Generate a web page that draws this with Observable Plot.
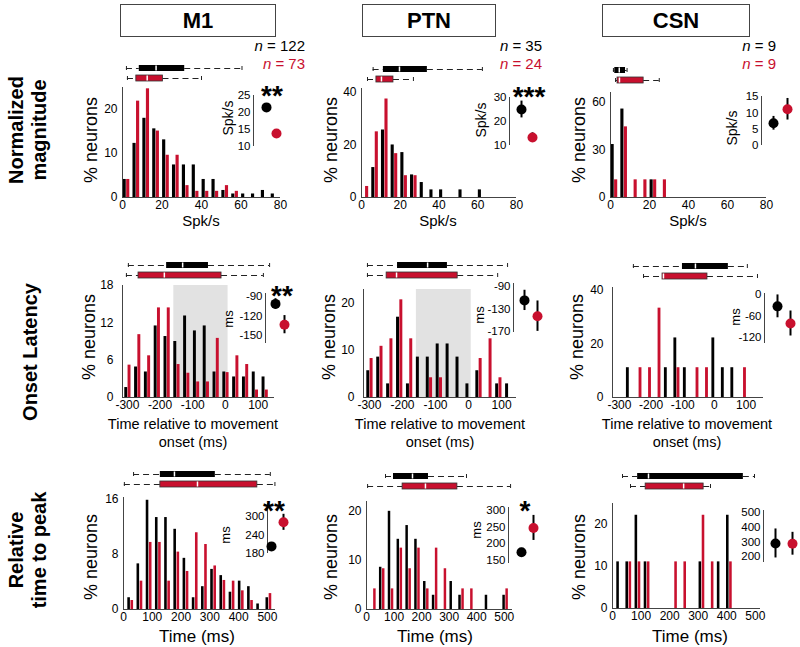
<!DOCTYPE html>
<html><head><meta charset="utf-8">
<script src="https://cdn.jsdelivr.net/npm/d3@7"></script>
<script src="https://cdn.jsdelivr.net/npm/@observablehq/plot@0.6"></script>
<style>
body{margin:0;background:#fff;}
#fig{position:relative;width:800px;height:647px;overflow:hidden;background:#fff;font-family:"Liberation Sans",Arial,sans-serif;color:#000;}
.t{position:absolute;white-space:nowrap;line-height:1;}
.box{position:absolute;border:1.5px solid #444;box-sizing:border-box;display:flex;align-items:center;justify-content:center;font-weight:bold;font-size:22px;}
</style></head><body><div id="fig"></div>
<script>
const RED = "#c8102e";
const AXIS = "#444";

// ---------- histogram data (% neurons) ----------
const magBins = [0,5,10,15,20,25,30,35,40,45,50,55,60,65,70,75];
const m1MagBlack  = [4.1,12.3,18.0,15.6,13.1,7.4,7.4,7.4,4.1,4.1,1.6,0.8,0.8,0.8,1.6,0.8];
const m1MagRed    = [4.1,21.9,24.7,15.1,9.6,9.6,2.7,1.4,1.4,1.4,2.7,1.4,0,0,0,0];
const ptnMagBlack = [0,11.4,25.7,20.0,17.1,8.6,5.7,2.9,2.9,0,2.9,0,2.9,0,0,0];
const ptnMagRed   = [4.2,25.0,37.5,16.7,8.3,8.3,0,0,0,0,0,0,0,0,0,0];
const csnMagBlack = [33.3,55.6,0,0,11.1,0,0,0,0,0,0,0,0,0,0,0];
const csnMagRed   = [11.1,44.4,11.1,11.1,11.1,11.1,0,0,0,0,0,0,0,0,0,0];

const onsetBins = [-300,-270,-240,-210,-180,-150,-120,-90,-60,-30,0,30,60,90,120];
const m1OnsetBlack  = [1.6,4.9,4.1,11.5,9.8,9.0,13.1,10.7,11.5,4.1,4.1,3.3,3.3,4.1,3.3];
const m1OnsetRed    = [5.2,10.1,6.7,14.4,14.4,5.3,3.9,2.5,2.5,9.5,4.0,6.7,5.3,1.2,1.2];
const ptnOnsetBlack = [5.7,8.6,2.9,17.1,2.9,8.6,8.6,11.4,11.4,8.6,2.9,5.7,0,2.9,2.9];
const ptnOnsetRed   = [8.3,10.9,12.5,20.8,12.5,0,4.2,4.2,0,0,0,8.3,12.5,4.2,0];
const csnOnsetBlack = [0,11.1,0,0,0,11.1,22.2,11.1,0,0,22.2,11.1,11.1,0,0];
const csnOnsetRed   = [0,0,11.1,11.1,33.3,0,11.1,0,11.1,11.1,0,0,0,11.1,0];
const onsetShade = [-158, 8];

const peakBins = [25,57,89,121,153,185,217,249,281,313,345,377,409,441,473,505];
const m1PeakBlack  = [1.7,6.6,15.8,13.3,13.3,11.6,7.4,1.7,3.3,5.8,4.9,2.5,4.1,3.3,0.8,1.7];
const m1PeakRed    = [1.3,4.1,9.7,9.7,4.1,8.3,5.5,11.1,9.4,6.3,4.2,4.1,2.7,1.3,0,2.3];
const ptnPeakBlack = [0,8.6,20.0,14.3,17.1,14.3,5.7,2.9,0,5.7,2.9,0,0,2.9,0,2.9];
const ptnPeakRed   = [4.2,8.3,4.2,12.5,8.3,12.5,4.2,12.5,8.3,0,4.2,4.2,0,0,0,4.2];
const csnPeakBlack = [11.1,11.1,22.2,11.1,0,0,0,0,0,11.1,0,11.1,22.2,0,0,0];
const csnPeakRed   = [0,11.1,11.1,11.1,0,0,11.1,11.1,0,22.2,11.1,0,11.1,0,0,0];

// ---------- box plot stats [lower whisker, q1, median, q3, upper whisker] ----------
const m1MagBoxBlack  = [2,8.5,17,31.5,60.5];     const m1MagBoxRed  = [2.5,7,12.5,20.5,40];
const ptnMagBoxBlack = [6,11.3,19.6,34,62.4];    const ptnMagBoxRed = [3.1,7.7,10.3,16.5,26.8];
const csnMagBoxBlack = [1.5,2.2,4.5,7.7,8.5];    const csnMagBoxRed = [2.6,3.6,4.6,17,25];
const m1OnsetBoxBlack  = [-297,-180,-131,-52,135]; const m1OnsetBoxRed  = [-303,-266,-187,-12,116];
const ptnOnsetBoxBlack = [-306,-215,-124,-64,118]; const ptnOnsetBoxRed = [-306,-248,-218,-33,88];
const csnOnsetBoxBlack = [-256,-101,-60,44,104];   const csnOnsetBoxRed = [-224,-164,-161,-22,136];
const m1PeakBoxBlack  = [35,128,177,319,510];   const m1PeakBoxRed  = [3,128,257,465,526];
const ptnPeakBoxBlack = [69,98,167,225,363];    const ptnPeakBoxRed = [4,131,214,330,523];
const csnPeakBoxBlack = [35,88,126,458,497];    const csnPeakBoxRed = [63,116,249,319,343];

// ---------- inset mean +/- error ----------
const m1MagMean = [21.5,13.8];   const m1MagErr = [1.0,1.2];
const ptnMagMean = [25,13.3];    const ptnMagErr = [3.5,2];
const csnMagMean = [6.8,11.1];   const csnMagErr = [2.1,3.3];
const m1OnsetMean = [-101,-133]; const m1OnsetErr = [8,14];
const ptnOnsetMean = [-115,-143];const ptnOnsetErr = [18,27];
const csnOnsetMean = [-33,-81];  const csnOnsetErr = [32,35];
const m1PeakMean = [203,281];    const m1PeakErr = [6,26];
const ptnPeakMean = [174,248];   const ptnPeakErr = [12,38];
const csnPeakMean = [290,288];   const csnPeakErr = [99,78];

// ---------- ticks ----------
const magTicksX = [0,20,40,60,80];
const onsetTicksX = [-300,-200,-100,0,100];
const peakTicksX = [0,100,200,300,400,500];

const fig = document.getElementById("fig");
const fmt = d => String(d);
const baseStyle = {background:"transparent", fontFamily:"Liberation Sans, Arial, sans-serif", fontSize:"12px", color:"#000", overflow:"visible"};
const insetStyle = {...baseStyle, fontSize:"11.5px"};

function place(svg, left, top) {
  svg.style.position = "absolute";
  svg.style.left = left + "px";
  svg.style.top = top + "px";
  fig.appendChild(svg);
}

function histogram({x0, x1, yTop, yBase, xDomain, yDomain, xTicks, yTicks, bins, black, red, bOff, rOff, band, yPad = 5}) {
  const ml = 36, mr = 2, mt = 2, mb = 22;
  const w = x1 - x0, h = yBase - yTop;
  const rows = (vals, off) => bins.map((b, i) => ({x1: b + off[0], x2: b + off[1], v: vals[i]})).filter(d => d.v > 0);
  const marks = [];
  if (band) marks.push(Plot.rect([band], {x1: d => d[0], x2: d => d[1], y1: () => yDomain[0], y2: () => yDomain[1], fill: "#e2e2e2"}));
  marks.push(
    Plot.rect(rows(black, bOff), {x1: "x1", x2: "x2", y1: () => 0, y2: "v", fill: "#000"}),
    Plot.rect(rows(red, rOff), {x1: "x1", x2: "x2", y1: () => 0, y2: "v", fill: RED}),
    Plot.ruleY([yDomain[0]], {stroke: AXIS}),
    Plot.ruleX([xDomain[0]], {stroke: AXIS}),
    Plot.axisX(xTicks, {tickSize: 0, tickPadding: 3, tickFormat: fmt, label: null}),
    Plot.axisY(yTicks, {tickSize: 0, tickPadding: yPad, tickFormat: fmt, label: null})
  );
  const svg = Plot.plot({width: ml + w + mr, height: mt + h + mb, marginLeft: ml, marginRight: mr, marginTop: mt, marginBottom: mb,
    x: {domain: xDomain}, y: {domain: yDomain}, style: baseStyle, marks});
  place(svg, x0 - ml, yTop - mt);
}

function boxplot({x0, x1, xDomain, yc, blackStats, redStats}) {
  const ml = 36, mr = 2, w = x1 - x0;
  const mk = (g, s) => ({g, lo: s[0], q1: s[1], med: s[2], q3: s[3], hi: s[4]});
  const rows = [mk("black", blackStats), mk("red", redStats)];
  const svg = Plot.plot({width: ml + w + mr, height: 34, marginLeft: ml, marginRight: mr, marginTop: 0, marginBottom: 0,
    x: {domain: xDomain, axis: null},
    y: {type: "band", domain: ["black", "red"], range: [7, 27], padding: 0, axis: null},
    style: baseStyle,
    marks: [
      Plot.ruleY(rows, {y: "g", x1: "lo", x2: "q1", stroke: "#222", strokeDasharray: "6,4"}),
      Plot.ruleY(rows, {y: "g", x1: "q3", x2: "hi", stroke: "#222", strokeDasharray: "6,4"}),
      Plot.tickX(rows, {x: "lo", y: "g", stroke: "#222", insetTop: 3, insetBottom: 3}),
      Plot.tickX(rows, {x: "hi", y: "g", stroke: "#222", insetTop: 3, insetBottom: 3}),
      Plot.barX(rows.slice(0, 1), {x1: "q1", x2: "q3", y: "g", fill: "#000", insetTop: 2, insetBottom: 2}),
      Plot.barX(rows.slice(1), {x1: "q1", x2: "q3", y: "g", fill: RED, stroke: "#333", strokeWidth: 0.8, insetTop: 2, insetBottom: 2}),
      Plot.tickX(rows, {x: "med", y: "g", stroke: "#fff", strokeWidth: 1.5, insetTop: 2.5, insetBottom: 2.5})
    ]});
  place(svg, x0 - ml, yc - 12);
}

function inset({ax, bx, rx, yTop, yBot, domain, ticks, mean, err}) {
  const left = ax - 40, top = yTop - 8;
  const pts = ["black", "red"].map((g, i) => ({g, v: mean[i], e: err[i]}));
  const svg = Plot.plot({width: rx - left + 10, height: yBot - top + 8, marginLeft: 40, marginRight: 0, marginTop: 8, marginBottom: 8,
    x: {type: "point", domain: ["black", "red"], range: [bx - left, rx - left], padding: 0, axis: null},
    y: {domain, range: [yBot - top, yTop - top]},
    style: insetStyle,
    marks: [
      Plot.ruleX(["black"], {x: d => d, y1: () => domain[0], y2: () => domain[1], dx: ax - bx, stroke: AXIS}),
      Plot.axisY(ticks, {anchor: "left", tickSize: 0, tickPadding: 3, tickFormat: fmt, label: null}),
      Plot.ruleX(pts, {x: "g", y1: d => d.v - d.e, y2: d => d.v + d.e, stroke: "#000", strokeWidth: 2}),
      Plot.dot(pts.slice(0, 1), {x: "g", y: "v", r: 5, fill: "#000"}),
      Plot.dot(pts.slice(1), {x: "g", y: "v", r: 5, fill: RED})
    ]});
  place(svg, left, top);
}

function text(html, x, y, {size = 14, weight = 400, color = "#000", rotate = 0, align = "center", lh = 1} = {}) {
  const d = document.createElement("div");
  d.className = "t";
  d.innerHTML = html;
  const tx = align === "right" ? "-100%" : align === "left" ? "0" : "-50%";
  d.style.left = x + "px"; d.style.top = y + "px";
  d.style.fontSize = size + "px"; d.style.fontWeight = weight; d.style.color = color;
  d.style.lineHeight = lh; d.style.textAlign = "center";
  d.style.transform = `translate(${tx},-50%) rotate(${rotate}deg)`;
  fig.appendChild(d);
}
function stars(s, x, y) {
  const d = document.createElement("div");
  d.className = "t";
  d.textContent = s;
  d.style.left = x + "px"; d.style.top = (y - 0.28 * 28) + "px";
  d.style.fontSize = "28px"; d.style.fontWeight = "bold";
  d.style.transform = "translateX(-50%)";
  fig.appendChild(d);
}
function titleBox(label, x0, x1) {
  const d = document.createElement("div");
  d.className = "box";
  d.textContent = label;
  d.style.left = x0 + "px"; d.style.top = "4px";
  d.style.width = (x1 - x0) + "px"; d.style.height = "33px";
  fig.appendChild(d);
}

const magOff = {bOff: [0.3, 1.9], rOff: [2.1, 3.7]};
const onOff = {bOff: [-8, 1], rOff: [2, 11], yPad: 9};
const pkOff = {bOff: [-10, -1], rOff: [1, 10]};

// ---------- Row 1: normalized magnitude ----------
histogram({x0:122, x1:280, yTop:87, yBase:197, xDomain:[0,80], yDomain:[0,25], xTicks:magTicksX, yTicks:[0,10,20], bins:magBins, black:m1MagBlack, red:m1MagRed, ...magOff});
histogram({x0:361, x1:516, yTop:88, yBase:197, xDomain:[0,80], yDomain:[0,41.5], xTicks:magTicksX, yTicks:[0,20,40], bins:magBins, black:ptnMagBlack, red:ptnMagRed, ...magOff});
histogram({x0:610, x1:766, yTop:92, yBase:197, xDomain:[0,80], yDomain:[0,66], xTicks:magTicksX, yTicks:[0,30,60], bins:magBins, black:csnMagBlack, red:csnMagRed, ...magOff});
boxplot({x0:122, x1:280, xDomain:[0,80], yc:68, blackStats:m1MagBoxBlack, redStats:m1MagBoxRed});
boxplot({x0:361, x1:516, xDomain:[0,80], yc:69, blackStats:ptnMagBoxBlack, redStats:ptnMagBoxRed});
boxplot({x0:610, x1:766, xDomain:[0,80], yc:70, blackStats:csnMagBoxBlack, redStats:csnMagBoxRed});
inset({ax:253, bx:266, rx:276, yTop:95, yBot:146, domain:[10,25], ticks:[10,15,20,25], mean:m1MagMean, err:m1MagErr});
inset({ax:509, bx:521, rx:532, yTop:97, yBot:145, domain:[10,30], ticks:[10,20,30], mean:ptnMagMean, err:ptnMagErr});
inset({ax:761, bx:773, rx:787, yTop:96, yBot:145, domain:[0,15], ticks:[0,5,10,15], mean:csnMagMean, err:csnMagErr});

// ---------- Row 2: onset latency ----------
histogram({x0:122, x1:274, yTop:285, yBase:397, xDomain:[-315,150], yDomain:[0,18], xTicks:onsetTicksX, yTicks:[0,6,12,18], bins:onsetBins, black:m1OnsetBlack, red:m1OnsetRed, band:onsetShade, ...onOff});
histogram({x0:363, x1:516, yTop:289, yBase:397, xDomain:[-318,145], yDomain:[0,23], xTicks:onsetTicksX, yTicks:[0,10,20], bins:onsetBins, black:ptnOnsetBlack, red:ptnOnsetRed, band:onsetShade, ...onOff});
histogram({x0:612, x1:763, yTop:287, yBase:397, xDomain:[-322,155], yDomain:[0,41], xTicks:onsetTicksX, yTicks:[0,20,40], bins:onsetBins, black:csnOnsetBlack, red:csnOnsetRed, ...onOff});
boxplot({x0:122, x1:274, xDomain:[-315,150], yc:265, blackStats:m1OnsetBoxBlack, redStats:m1OnsetBoxRed});
boxplot({x0:363, x1:516, xDomain:[-318,145], yc:265, blackStats:ptnOnsetBoxBlack, redStats:ptnOnsetBoxRed});
boxplot({x0:612, x1:763, xDomain:[-322,155], yc:266, blackStats:csnOnsetBoxBlack, redStats:csnOnsetBoxRed});
inset({ax:265, bx:275, rx:284, yTop:293, yBot:343, domain:[-162,-85], ticks:[-150,-120,-90], mean:m1OnsetMean, err:m1OnsetErr});
inset({ax:513, bx:524, rx:537, yTop:283, yBot:332, domain:[-172,-85], ticks:[-170,-130,-90], mean:ptnOnsetMean, err:ptnOnsetErr});
inset({ax:764, bx:777, rx:790, yTop:293, yBot:343, domain:[-137,3], ticks:[-120,-60,0], mean:csnOnsetMean, err:csnOnsetErr});

// ---------- Row 3: relative time to peak ----------
histogram({x0:123, x1:275, yTop:497, yBase:609, xDomain:[0,528], yDomain:[0,16.2], xTicks:peakTicksX, yTicks:[0,8,16], bins:peakBins, black:m1PeakBlack, red:m1PeakRed, ...pkOff});
histogram({x0:366, x1:512, yTop:501, yBase:609, xDomain:[0,530], yDomain:[0,22], xTicks:peakTicksX, yTicks:[0,10,20], bins:peakBins, black:ptnPeakBlack, red:ptnPeakRed, ...pkOff});
histogram({x0:612, x1:760, yTop:503, yBase:608, xDomain:[0,518], yDomain:[0,25], xTicks:peakTicksX, yTicks:[0,10,20], bins:peakBins, black:csnPeakBlack, red:csnPeakRed, ...pkOff});
boxplot({x0:123, x1:275, xDomain:[0,528], yc:474, blackStats:m1PeakBoxBlack, redStats:m1PeakBoxRed});
boxplot({x0:366, x1:512, xDomain:[0,530], yc:476, blackStats:ptnPeakBoxBlack, redStats:ptnPeakBoxRed});
boxplot({x0:612, x1:760, xDomain:[0,518], yc:476, blackStats:csnPeakBoxBlack, redStats:csnPeakBoxRed});
inset({ax:267, bx:271, rx:283, yTop:503, yBot:553, domain:[180,342], ticks:[180,240,300], mean:m1PeakMean, err:m1PeakErr});
inset({ax:508, bx:521, rx:533, yTop:507, yBot:563, domain:[140,310], ticks:[150,200,250,300], mean:ptnPeakMean, err:ptnPeakErr});
inset({ax:763, bx:775, rx:792, yTop:510, yBot:562, domain:[160,515], ticks:[200,300,400,500], mean:csnPeakMean, err:csnPeakErr});

// ---------- text ----------
titleBox("M1", 120, 276);
titleBox("PTN", 362, 496);
titleBox("CSN", 602, 750);

text("<i>n</i> = 122", 305, 45, {size:15, align:"right"});
text("<i>n</i> = 73", 305, 63, {size:15, align:"right", color:RED});
text("<i>n</i> = 35", 542, 45, {size:15, align:"right"});
text("<i>n</i> = 24", 542, 63, {size:15, align:"right", color:RED});
text("<i>n</i> = 9", 776, 45, {size:15, align:"right"});
text("<i>n</i> = 9", 776, 63, {size:15, align:"right", color:RED});

text("Normalized<br>magnitude", 28, 130, {size:20, weight:700, rotate:-90, lh:1.15});
text("Onset Latency", 30, 352, {size:20, weight:700, rotate:-90});
text("Relative<br>time to peak", 28, 550, {size:20, weight:700, rotate:-90, lh:1.15});

[[91,140],[331,140],[579,140],[89,337],[329,337],[577,337],[91,557],[331,557],[579,557]].forEach(([x,y]) =>
  text("% neurons", x, y, {size:18, rotate:-90}));

[201,438,688].forEach(x => text("Spk/s", x, 220, {size:15}));
[193,440,687].forEach(x => { text("Time relative to movement", x, 424, {size:14.5}); text("onset (ms)", x, 442, {size:14.5}); });
[197,435,690].forEach(x => text("Time (ms)", x, 636, {size:17}));

text("Spk/s", 228, 118, {size:14, rotate:-90});
text("Spk/s", 481, 120, {size:14, rotate:-90});
text("Spk/s", 732, 128, {size:14, rotate:-90});
text("ms", 228, 319, {size:13, rotate:-90});
text("ms", 479, 315, {size:13, rotate:-90});
text("ms", 735, 317, {size:13, rotate:-90});
text("ms", 225, 535, {size:13, rotate:-90});
text("ms", 476, 530, {size:13, rotate:-90});

stars("**", 272, 90);
stars("***", 529, 91);
stars("**", 282, 290);
stars("**", 274, 505);
stars("*", 525, 505);
</script></body></html>
